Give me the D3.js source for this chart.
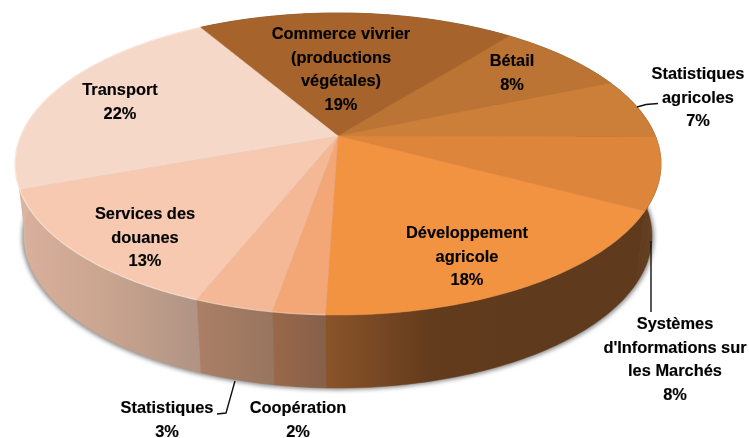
<!DOCTYPE html>
<html>
<head>
<meta charset="utf-8">
<script src="https://d3js.org/d3.v7.min.js"></script>
<style>
html, body { margin: 0; padding: 0; background: #fff; }
svg { display: block; }
text { font-family: "Liberation Sans", Arial, sans-serif; font-weight: bold; font-size: 16.4px; fill: #000; stroke: #000; stroke-width: 0.15px; }
</style>
</head>
<body>
<svg class="chart" width="749" height="438"></svg>
<script>
// slices clockwise, starting at the Commerce / Transport border
var categories = ["Commerce vivrier (productions végétales)", "Bétail", "Statistiques agricoles",
	"Systèmes d'Informations sur les Marchés", "Développement agricole", "Coopération",
	"Statistiques", "Services des douanes", "Transport"];
var values = [19, 8, 6.5, 7.7, 17.7, 2.2, 3.3, 13.4, 22.2];
var labelLines = [
	["Commerce vivrier", "(productions", "végétales)"],
	["Bétail"],
	["Statistiques", "agricoles"],
	["Systèmes", "d'Informations sur", "les Marchés"],
	["Développement", "agricole"],
	["Coopération"],
	["Statistiques"],
	["Services des", "douanes"],
	["Transport"]
];
var topColors = ["#a6642c", "#bb7433", "#cc7f38", "#dd853b", "#f29342", "#f3a676", "#f4b896", "#f6c9b0", "#f6d8c8"];
var sideColors = [
	["#5e3a1d", "#5e3a1d"], ["#5e3a1d", "#5e3a1d"], ["#5e3a1d", "#5e3a1d"],
	["#5f3a1d", "#6a4322"],
	["#8a5429", "#633b1d", "#5f3a1d", "#5f3a1d"],
	["#9a6849", "#85604a"],
	["#ab7f66", "#98755f"],
	["#d9b09b", "#c9a48f", "#b09383"],
	["#d9b6a3", "#d9b09b"]
];
var rimLight = [0, 0, 0, 0, 0, 0.5, 0.5, 0.8, 0.8];

// layout
var labelX = [341, 512, 698, 675, 467, 298, 167, 145, 120];
var labelY = [39, 66, 79, 329, 238, 413, 413, 219, 95];
var lineGap = 23.5;
var leaders = [
	[[637, 107], [646, 104.5], [658, 103.5]],
	[[651, 241], [651, 312]],
	[[235, 381], [226, 413], [217, 414]]
];

var apex = [338, 136];
var topRim = { cx: 338, cy: 164, rx: 323, ry: 151 };
var baseRim = { cx: 338, cy: 236, rx: 314, ry: 152 };
var tilt = 56 / 302;
var startAngle = -30.2 * Math.PI / 180;

var svg = d3.select(".chart");
var defs = svg.append("defs");
defs.append("filter").attr("id", "shadow")
	.attr("x", "-5%").attr("y", "-5%").attr("width", "110%").attr("height", "110%")
	.append("feGaussianBlur").attr("stdDeviation", 2.2);
defs.append("filter").attr("id", "soft")
	.append("feGaussianBlur").attr("stdDeviation", 0.3);

// pie angle -> ellipse parameter, through the perspective of the tilted disc
function rimAngle(a) {
	var u = Math.sin(a), v = -Math.cos(a);
	var w = 1 - tilt * v;
	var b = topRim.rx * Math.sqrt(1 - tilt * tilt);
	var c = 145.8;
	var x = b * u / w / topRim.rx;
	var y = (apex[1] + c * v / w - topRim.cy) / topRim.ry;
	return Math.atan2(y, x);
}

function onRim(rim, t) {
	return [rim.cx + rim.rx * Math.cos(t), rim.cy + rim.ry * Math.sin(t)];
}

function sampleAngles(d) {
	var n = Math.max(4, Math.ceil((d.endAngle - d.startAngle) / 0.02));
	return d3.range(n + 1).map(function(i) {
		return rimAngle(d.startAngle + (d.endAngle - d.startAngle) * i / n);
	});
}

var pie = d3.pie().sort(null).startAngle(startAngle).endAngle(startAngle + 2 * Math.PI);
var arcs = pie(values);
var line = d3.line();

// blurred shadow under the base
svg.append("ellipse")
	.attr("cx", baseRim.cx).attr("cy", baseRim.cy + 1)
	.attr("rx", baseRim.rx + 2).attr("ry", baseRim.ry + 1)
	.attr("fill", "#8a8a8a")
	.attr("filter", "url(#shadow)");

// side wall
var sides = svg.append("g");
arcs.forEach(function(d, i) {
	var ts = sampleAngles(d);
	var upper = ts.map(function(t) { return onRim(topRim, t); });
	var lower = ts.map(function(t) { return onRim(baseRim, t); }).reverse();
	var xs = upper.concat(lower).map(function(p) { return p[0]; });
	var grad = defs.append("linearGradient")
		.attr("id", "side" + i)
		.attr("gradientUnits", "userSpaceOnUse")
		.attr("x1", d3.min(xs)).attr("x2", d3.max(xs))
		.attr("y1", 0).attr("y2", 0);
	sideColors[i].forEach(function(c, k) {
		grad.append("stop")
			.attr("offset", k / (sideColors[i].length - 1))
			.attr("stop-color", c);
	});
	sides.append("path")
		.attr("d", line(upper.concat(lower)) + "Z")
		.attr("fill", "url(#side" + i + ")")
		.attr("stroke", "url(#side" + i + ")")
		.attr("stroke-width", 0.5);
});

// top face
var face = svg.append("g");
arcs.forEach(function(d, i) {
	var rimPts = sampleAngles(d).map(function(t) { return onRim(topRim, t); });
	face.append("path")
		.attr("class", "slice")
		.attr("d", line([apex].concat(rimPts)) + "Z")
		.attr("fill", topColors[i])
		.attr("stroke", topColors[i])
		.attr("stroke-width", 0.5);
	if (rimLight[i] > 0) {
		face.append("path")
			.attr("d", line(rimPts))
			.attr("fill", "none")
			.attr("stroke", "#fff")
			.attr("stroke-width", 1.2)
			.attr("stroke-opacity", rimLight[i] * 0.6);
	}
});

// leader lines
leaders.forEach(function(pts) {
	svg.append("path")
		.attr("d", line(pts))
		.attr("fill", "none")
		.attr("stroke", "#111")
		.attr("stroke-width", 1.4);
});

// labels
categories.forEach(function(name, i) {
	var t = svg.append("text")
		.attr("text-anchor", "middle")
		.attr("filter", "url(#soft)");
	labelLines[i].concat([Math.round(values[i]) + "%"]).forEach(function(s, k) {
		t.append("tspan")
			.attr("x", labelX[i])
			.attr("y", labelY[i] + k * lineGap)
			.text(s);
	});
});
</script>
</body>
</html>
